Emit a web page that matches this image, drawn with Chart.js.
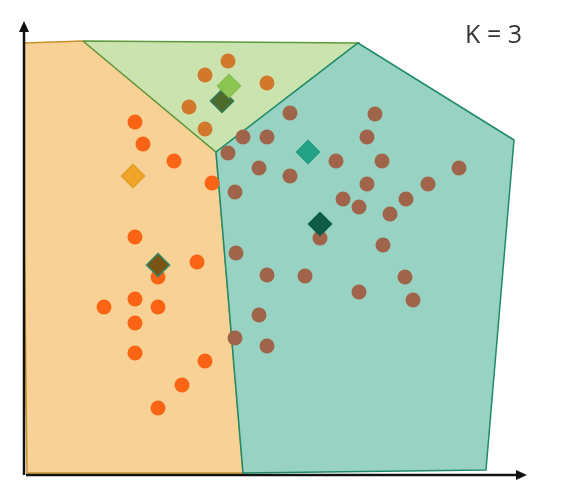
<!DOCTYPE html>
<html>
<head>
<meta charset="utf-8">
<script src="https://cdn.jsdelivr.net/npm/chart.js@4/dist/chart.umd.min.js"></script>
<style>
html,body{margin:0;padding:0;background:#fff;}
#wrap{width:566px;height:498px;position:relative;}
</style>
</head>
<body>
<div id="wrap"><canvas id="c" width="566" height="498"></canvas></div>
<script>
// ---- data (abstract units) ----
const titleText = "K = 3";

// cluster 1 (orange region) points
const orangePts = [[2.22,7.04],[2.38,6.60],[3.00,6.26],[3.76,5.82],[2.22,4.74],[3.46,4.24],[2.68,3.94],[2.22,3.50],[1.60,3.34],[2.68,3.34],[2.22,3.02],[2.22,2.42],[3.62,2.26],[3.16,1.78],[2.68,1.32]];
// cluster 2 (green region) points
const greenPts = [[4.08,8.26],[3.62,7.98],[4.86,7.82],[3.30,7.34],[3.62,6.90]];
// cluster 3 (teal region) points
const tealPts = [[5.32,7.22],[7.02,7.20],[4.38,6.74],[4.86,6.74],[6.86,6.74],[4.08,6.42],[6.24,6.26],[7.16,6.26],[4.70,6.12],[8.70,6.12],[5.32,5.96],[6.86,5.80],[8.08,5.80],[4.22,5.64],[6.38,5.50],[7.64,5.50],[6.70,5.34],[7.32,5.20],[5.92,4.72],[7.18,4.58],[4.24,4.42],[4.86,3.98],[5.62,3.96],[7.62,3.94],[6.70,3.64],[7.78,3.48],[4.70,3.18],[4.22,2.72],[4.86,2.56]];

// centroids: previous (light) and current (dark)
const centroidOrangeOld = [[2.18,5.96]];
const centroidOrangeNew = [[2.68,4.18]];
const centroidGreenOld = [[4.10,7.76]];
const centroidGreenNew = [[3.96,7.46]];
const centroidTealOld = [[5.68,6.44]];
const centroidTealNew = [[5.92,5.00]];

// region polygons (Voronoi cells)
const regionOrange = [[-0.04,8.62],[1.18,8.66],[3.84,6.44],[4.38,0.02],[0.06,0.02]];
const regionGreen = [[1.18,8.66],[6.68,8.62],[3.84,6.44]];
const regionTeal = [[3.84,6.44],[6.68,8.62],[9.80,6.68],[9.24,0.08],[4.38,0.02]];

const toXY = a => a.map(p => ({x:p[0], y:p[1]}));
const closed = a => toXY(a.concat([a[0]]));

function polyDs(pts, fillC, lineC, ord){
  return {type:'line', data:closed(pts), showLine:true, fill:'shape', backgroundColor:fillC,
    borderColor:lineC, borderWidth:1.5, pointRadius:0, tension:0, order:ord};
}
function dotDs(pts, c){
  return {type:'scatter', data:toXY(pts), backgroundColor:c, borderColor:c, borderWidth:0,
    pointRadius:7.5, pointHoverRadius:7.5, order:2};
}
function diaDs(pts, fillC, lineC){
  return {type:'scatter', data:toXY(pts), pointStyle:'rectRot', backgroundColor:fillC,
    borderColor:lineC, borderWidth:1.5, pointRadius:11.5, pointHoverRadius:11.5, order:1};
}

const axesPlugin = {
  id:'axes',
  afterDraw(chart){
    const ctx = chart.ctx, xs = chart.scales.x, ys = chart.scales.y, ca = chart.chartArea;
    const x0 = xs.getPixelForValue(0), y0 = ys.getPixelForValue(0);
    ctx.save();
    ctx.strokeStyle = '#111'; ctx.fillStyle = '#111'; ctx.lineWidth = 2.5;
    // y axis
    ctx.beginPath(); ctx.moveTo(x0, y0+1); ctx.lineTo(x0, ca.top+6); ctx.stroke();
    ctx.beginPath(); ctx.moveTo(x0, ca.top-3); ctx.lineTo(x0-5, ca.top+8); ctx.lineTo(x0+5, ca.top+8); ctx.closePath(); ctx.fill();
    // x axis
    ctx.beginPath(); ctx.moveTo(x0+2, y0+1); ctx.lineTo(ca.right-6, y0+1); ctx.stroke();
    ctx.beginPath(); ctx.moveTo(ca.right+3, y0+1); ctx.lineTo(ca.right-8, y0-4); ctx.lineTo(ca.right-8, y0+6); ctx.closePath(); ctx.fill();
    // title
    ctx.fillStyle = '#333';
    ctx.font = '25px "Open Sans", "Liberation Sans", sans-serif';
    ctx.textAlign = 'right'; ctx.textBaseline = 'alphabetic';
    ctx.fillText(titleText, ca.right-2, 43);
    ctx.restore();
  }
};

new Chart(document.getElementById('c'), {
  type:'scatter',
  data:{datasets:[
    diaDs(centroidOrangeOld, '#F2A52A', '#E39B22'),
    diaDs(centroidGreenOld, '#8DC653', '#86BF4E'),
    diaDs(centroidTealOld, '#22A386', '#1E9A7E'),
    diaDs(centroidGreenNew, '#4E6B2C', '#2E7A5A'),
    diaDs(centroidTealNew, '#0F5C45', '#0F5C45'),
    diaDs(centroidOrangeNew, '#7A5414', '#2A8A6A'),
    dotDs(orangePts, '#FA6414'),
    dotDs(greenPts, '#D2782D'),
    dotDs(tealPts, '#A0644A'),
    polyDs(regionTeal, '#97D2C2', '#1E8A6A', 3),
    polyDs(regionGreen, '#CBE3AE', '#5E9A3E', 4),
    polyDs(regionOrange, '#F7D195', '#C8902A', 5)
  ]},
  options:{
    responsive:false, animation:false,
    layout:{padding:{left:24, right:42, top:24, bottom:24}},
    scales:{
      x:{type:'linear', min:0, max:10, display:false},
      y:{type:'linear', min:0, max:9, display:false}
    },
    plugins:{legend:{display:false}, tooltip:{enabled:false}, title:{display:false}},
    events:[]
  },
  plugins:[axesPlugin]
});
</script>
</body>
</html>
